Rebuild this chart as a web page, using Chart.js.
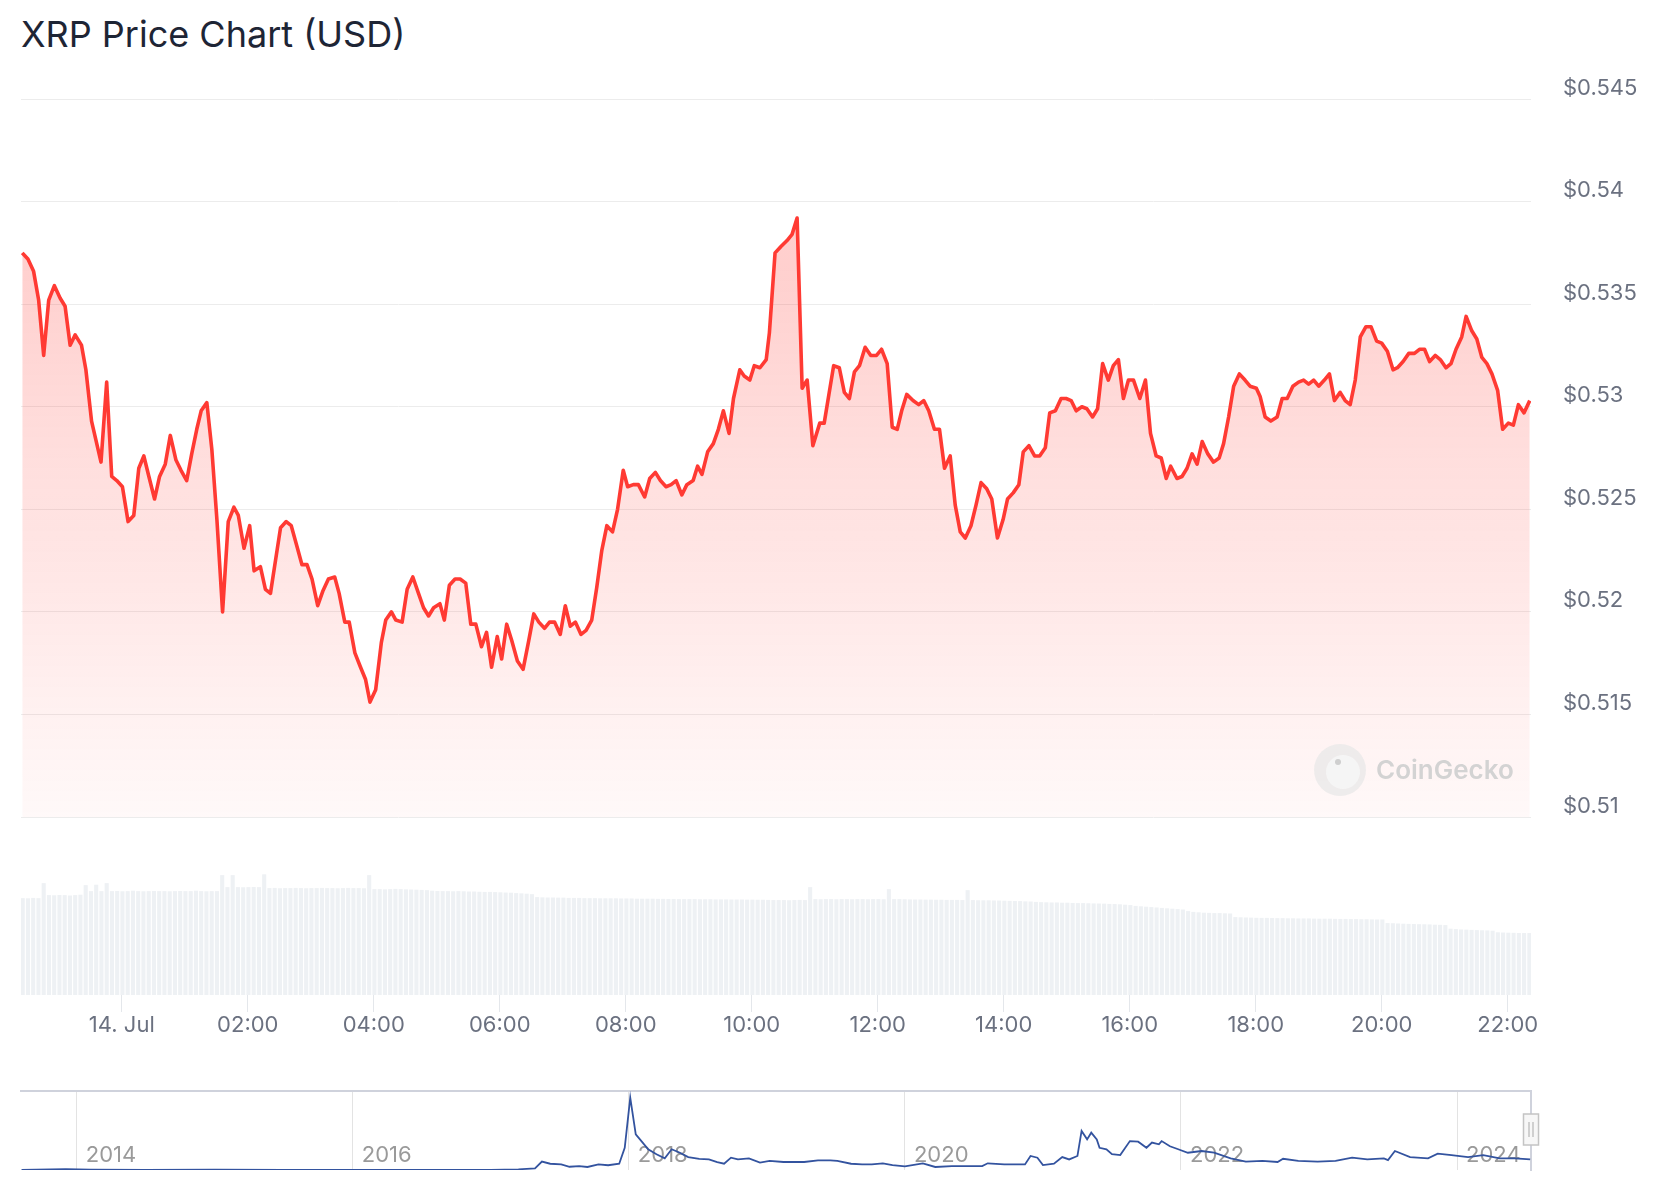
<!DOCTYPE html>
<html lang="en">
<head>
<meta charset="UTF-8">
<title>XRP Price Chart (USD)</title>
<style>
  body { margin: 0; background: #fff; }
  #wrap { position: relative; width: 1656px; height: 1200px; }
  h1 { position: absolute; left: 21px; top: 16px; margin: 0; font: 400 36px/36px Inter, sans-serif; color: #1e2535; }
  #main { position: absolute; left: 0; top: 0; }
  #nav { position: absolute; left: 0; top: 1075px; }
</style>
</head>
<body>
<div id="wrap">
  <h1>XRP Price Chart (USD)</h1>
  <canvas id="main" width="1656" height="1050"></canvas>
  <canvas id="nav" width="1656" height="115"></canvas>
</div>
<script src="https://cdn.jsdelivr.net/npm/chart.js"></script>
<script>
// hours since 14 Jul 00:00
const priceTimes = [
  -1.58, -1.49, -1.40, -1.32, -1.24, -1.16, -1.07, -0.98, -0.90, -0.82, -0.74, -0.64, -0.57, -0.48, -0.33, -0.24, -0.16, -0.08,
  0.01, 0.10, 0.19, 0.27, 0.35, 0.43, 0.52, 0.60, 0.69, 0.77, 0.86, 0.94, 1.03, 1.11, 1.19, 1.26, 1.35, 1.43, 1.51, 1.60, 1.69, 1.78, 1.85, 1.94,
  2.03, 2.10, 2.20, 2.28, 2.36, 2.44, 2.52, 2.61, 2.69, 2.78, 2.86, 2.94, 3.02, 3.11, 3.19, 3.28, 3.38, 3.45, 3.54, 3.61, 3.70, 3.79, 3.87, 3.94,
  4.03, 4.12, 4.19, 4.28, 4.35, 4.45, 4.53, 4.62, 4.71, 4.79, 4.87, 4.95, 5.05, 5.12, 5.20, 5.29, 5.37, 5.46, 5.54, 5.62, 5.71, 5.79, 5.87, 5.96,
  6.03, 6.11, 6.19, 6.28, 6.37, 6.46, 6.54, 6.62, 6.71, 6.79, 6.87, 6.96, 7.04, 7.12, 7.20, 7.29, 7.37, 7.46, 7.54, 7.62, 7.70, 7.79, 7.87, 7.96,
  8.03, 8.12, 8.20, 8.30, 8.38, 8.47, 8.55, 8.64, 8.72, 8.80, 8.89, 8.97, 9.07, 9.14, 9.21, 9.30, 9.39, 9.47, 9.55, 9.64, 9.71, 9.81, 9.88, 9.97,
  10.04, 10.13, 10.23, 10.28, 10.37, 10.46, 10.56, 10.64, 10.72, 10.80, 10.88, 10.97, 11.08, 11.15, 11.30, 11.39, 11.47, 11.55, 11.63, 11.71, 11.80, 11.89, 11.98,
  12.06, 12.15, 12.23, 12.31, 12.38, 12.46, 12.56, 12.65, 12.73, 12.81, 12.90, 12.98, 13.06, 13.15, 13.23, 13.31, 13.39, 13.48, 13.56, 13.64, 13.73, 13.81, 13.90, 13.99,
  14.06, 14.15, 14.24, 14.31, 14.40, 14.49, 14.57, 14.66, 14.73, 14.82, 14.91, 14.99, 15.07, 15.15, 15.24, 15.32, 15.41, 15.49, 15.57, 15.66, 15.74, 15.82, 15.90, 15.98,
  16.06, 16.16, 16.25, 16.33, 16.42, 16.50, 16.58, 16.65, 16.75, 16.83, 16.91, 16.99, 17.07, 17.15, 17.24, 17.33, 17.42, 17.49, 17.57, 17.65, 17.74, 17.83, 17.91,
  18.01, 18.07, 18.15, 18.24, 18.34, 18.42, 18.50, 18.59, 18.68, 18.76, 18.84, 18.92, 19.00, 19.09, 19.17, 19.25, 19.34, 19.42, 19.50, 19.58, 19.66, 19.75, 19.83, 19.92,
  20.00, 20.09, 20.18, 20.25, 20.34, 20.43, 20.52, 20.60, 20.68, 20.76, 20.85, 20.93, 21.02, 21.10, 21.18, 21.27, 21.34, 21.43, 21.51, 21.59, 21.67, 21.75, 21.84, 21.92,
  22.01, 22.09, 22.17, 22.26, 22.35
];
const prices = [
  0.5375, 0.5372, 0.5366, 0.5352, 0.5325, 0.5352, 0.5359, 0.5353, 0.5349, 0.5330, 0.5335, 0.5330, 0.5318, 0.5293, 0.5273, 0.5312, 0.5266, 0.5264,
  0.5261, 0.5244, 0.5247, 0.5270, 0.5276, 0.5266, 0.5255, 0.5266, 0.5272, 0.5286, 0.5274, 0.5269, 0.5264, 0.5277, 0.5289, 0.5298, 0.5302, 0.5279, 0.5245, 0.5200, 0.5244, 0.5251, 0.5247, 0.5231,
  0.5242, 0.5220, 0.5222, 0.5211, 0.5209, 0.5225, 0.5241, 0.5244, 0.5242, 0.5232, 0.5223, 0.5223, 0.5216, 0.5203, 0.5210, 0.5216, 0.5217, 0.5209, 0.5195, 0.5195, 0.5180, 0.5173, 0.5167, 0.5156,
  0.5162, 0.5185, 0.5196, 0.5200, 0.5196, 0.5195, 0.5211, 0.5217, 0.5209, 0.5202, 0.5198, 0.5202, 0.5204, 0.5196, 0.5213, 0.5216, 0.5216, 0.5214, 0.5194, 0.5194, 0.5183, 0.5190, 0.5173, 0.5188,
  0.5177, 0.5194, 0.5186, 0.5176, 0.5172, 0.5186, 0.5199, 0.5195, 0.5192, 0.5195, 0.5195, 0.5189, 0.5203, 0.5193, 0.5195, 0.5189, 0.5191, 0.5196, 0.5212, 0.5230, 0.5242, 0.5239, 0.5250, 0.5269,
  0.5261, 0.5262, 0.5262, 0.5256, 0.5265, 0.5268, 0.5264, 0.5261, 0.5262, 0.5264, 0.5257, 0.5262, 0.5264, 0.5271, 0.5267, 0.5278, 0.5282, 0.5289, 0.5298, 0.5287, 0.5304, 0.5318, 0.5315, 0.5313,
  0.5320, 0.5319, 0.5323, 0.5336, 0.5375, 0.5378, 0.5381, 0.5384, 0.5392, 0.5309, 0.5313, 0.5281, 0.5292, 0.5292, 0.5320, 0.5319, 0.5307, 0.5304, 0.5317, 0.5320, 0.5329, 0.5325, 0.5325,
  0.5328, 0.5321, 0.5290, 0.5289, 0.5298, 0.5306, 0.5303, 0.5301, 0.5303, 0.5298, 0.5289, 0.5289, 0.5270, 0.5276, 0.5252, 0.5239, 0.5236, 0.5242, 0.5252, 0.5263, 0.5260, 0.5255, 0.5236, 0.5245,
  0.5255, 0.5258, 0.5262, 0.5278, 0.5281, 0.5276, 0.5276, 0.5280, 0.5297, 0.5298, 0.5304, 0.5304, 0.5303, 0.5298, 0.5300, 0.5299, 0.5295, 0.5299, 0.5321, 0.5313, 0.5320, 0.5323, 0.5304, 0.5313,
  0.5313, 0.5304, 0.5313, 0.5287, 0.5276, 0.5275, 0.5265, 0.5271, 0.5265, 0.5266, 0.5270, 0.5277, 0.5272, 0.5283, 0.5277, 0.5273, 0.5275, 0.5282, 0.5295, 0.5310, 0.5316, 0.5313, 0.5310,
  0.5309, 0.5305, 0.5295, 0.5293, 0.5295, 0.5304, 0.5304, 0.5310, 0.5312, 0.5313, 0.5311, 0.5313, 0.5310, 0.5313, 0.5316, 0.5303, 0.5307, 0.5303, 0.5301, 0.5313, 0.5334, 0.5339, 0.5339, 0.5332,
  0.5331, 0.5327, 0.5318, 0.5319, 0.5322, 0.5326, 0.5326, 0.5328, 0.5328, 0.5322, 0.5325, 0.5323, 0.5319, 0.5321, 0.5328, 0.5334, 0.5344, 0.5337, 0.5333, 0.5324, 0.5321, 0.5316, 0.5308, 0.5289,
  0.5292, 0.5291, 0.5301, 0.5297, 0.5303
];

// 24h volume, million USD, one bar per 5 minutes
const volumes = [
  1212, 1210, 1215, 1212, 1400, 1250, 1248, 1252, 1250, 1245, 1250, 1255, 1375, 1300, 1380, 1300, 1400,
  1300, 1302, 1298, 1300, 1305, 1300, 1298, 1300, 1302, 1300, 1300, 1298, 1300, 1302, 1300, 1300, 1305, 1300, 1298, 1300, 1300,
  1500, 1350, 1500, 1350, 1348, 1350, 1352, 1350, 1510,
  1338, 1340, 1336, 1338, 1338, 1340, 1338, 1336, 1338, 1338, 1340, 1338, 1338, 1336, 1338, 1340, 1338, 1338, 1336, 1500,
  1325, 1325, 1322, 1325, 1328, 1325, 1322, 1320, 1318, 1315, 1312,
  1305, 1302, 1300, 1300, 1298, 1300, 1298, 1295, 1295, 1292, 1290, 1290, 1288, 1285, 1282, 1280, 1275, 1272, 1268, 1262,
  1225, 1222, 1220, 1220, 1218, 1218, 1215, 1215, 1215, 1212, 1212, 1212, 1210, 1210, 1210, 1210, 1208, 1208, 1208, 1205,
  1205, 1205, 1205, 1203, 1203, 1202, 1202, 1200, 1200, 1200, 1200, 1198, 1198, 1198, 1196, 1196, 1196, 1195, 1195, 1195,
  1193, 1193, 1192, 1192, 1190, 1188, 1188, 1188, 1186, 1188, 1190, 1188, 1350,
  1200, 1198, 1200, 1200, 1198, 1200, 1200, 1198, 1200, 1200, 1198, 1200, 1200, 1198, 1325,
  1200, 1200, 1198, 1196, 1195, 1195, 1193, 1193, 1192, 1192, 1190, 1190, 1190, 1188, 1312,
  1188, 1186, 1185, 1185, 1183, 1182, 1180, 1178, 1176, 1175, 1172, 1170,
  1165, 1162, 1160, 1158, 1158, 1155, 1155, 1152, 1150, 1150, 1148, 1146, 1145, 1143, 1140, 1138, 1135, 1130, 1125,
  1115, 1110, 1105, 1100, 1095, 1090, 1085, 1080, 1075, 1070, 1050, 1040, 1035, 1030, 1028, 1025, 1025, 1022, 1020,
  975, 972, 970, 968, 966, 965, 965, 963, 962, 962, 960, 960, 958, 958, 958, 956, 955, 955, 955, 953, 952, 952, 950, 950, 948, 948, 946, 945, 945,
  900, 898, 895, 892, 890, 888, 886, 885, 883, 880, 878, 875, 830, 825, 820, 818, 815, 812, 810, 808, 805,
  785, 782, 780, 778, 776, 775, 775
];
const volStart = -1.573;   // first bar, hours
const volStep = 5 / 60;

const hourTicks = [0, 2, 4, 6, 8, 10, 12, 14, 16, 18, 20, 22];
const priceTicks = [0.51, 0.515, 0.52, 0.525, 0.53, 0.535, 0.54, 0.545];

// all-time navigator
const navYears = [
  2013.60, 2013.92, 2014.10, 2014.50, 2015.00, 2015.50, 2016.00, 2016.50, 2017.00, 2017.20, 2017.32, 2017.37, 2017.43, 2017.51,
  2017.57, 2017.64, 2017.70, 2017.78, 2017.85, 2017.93, 2017.97, 2018.01, 2018.05, 2018.10, 2018.14, 2018.20, 2018.26, 2018.31,
  2018.37, 2018.43, 2018.51, 2018.58, 2018.64, 2018.69, 2018.74, 2018.79, 2018.87, 2018.95, 2019.02, 2019.12, 2019.27, 2019.37,
  2019.46, 2019.51, 2019.61, 2019.69, 2019.76, 2019.84, 2019.91, 2020.00, 2020.13, 2020.22, 2020.34, 2020.45, 2020.56, 2020.60,
  2020.72, 2020.87, 2020.91, 2020.96, 2021.00, 2021.08, 2021.14, 2021.19, 2021.25, 2021.28, 2021.32, 2021.35, 2021.39, 2021.41,
  2021.46, 2021.50, 2021.56, 2021.63, 2021.69, 2021.75, 2021.79, 2021.84, 2021.86, 2021.92, 2021.98, 2022.05, 2022.15, 2022.24,
  2022.36, 2022.47, 2022.59, 2022.70, 2022.74, 2022.85, 2022.99, 2023.12, 2023.24, 2023.35, 2023.47, 2023.50, 2023.55, 2023.66,
  2023.79, 2023.86, 2023.96, 2024.08, 2024.19, 2024.31, 2024.42, 2024.53
];
const navPrices = [
  0.005, 0.04, 0.02, 0.006, 0.02, 0.008, 0.006, 0.007, 0.006, 0.03, 0.08, 0.39, 0.29, 0.26,
  0.15, 0.18, 0.14, 0.26, 0.22, 0.29, 1.03, 3.35, 1.65, 1.27, 0.96, 0.73, 0.54, 0.96,
  0.80, 0.60, 0.52, 0.49, 0.37, 0.29, 0.57, 0.49, 0.54, 0.34, 0.42, 0.37, 0.37, 0.45,
  0.45, 0.42, 0.29, 0.26, 0.26, 0.31, 0.23, 0.17, 0.31, 0.14, 0.18, 0.18, 0.18, 0.31,
  0.26, 0.26, 0.65, 0.57, 0.23, 0.29, 0.60, 0.49, 0.65, 1.81, 1.42, 1.73, 1.42, 1.03,
  0.96, 0.73, 0.69, 1.34, 1.31, 1.03, 1.27, 1.19, 1.34, 1.10, 0.96, 0.80, 0.88, 0.80,
  0.54, 0.39, 0.42, 0.37, 0.52, 0.42, 0.39, 0.42, 0.57, 0.49, 0.54, 0.46, 0.88, 0.60,
  0.54, 0.76, 0.69, 0.60, 0.69, 0.54, 0.54, 0.49
];
const yearTicks = [2014, 2016, 2018, 2020, 2022, 2024];

Chart.defaults.font.family = 'Inter';

const red = 'rgb(255,58,51)';
const labelColor = '#6b7180';

// price panel ends at 0.51; the volume bars live below it in the same area
const areaTop = 99, priceBottom = 817, areaBottom = 995;
const yMin = 0.51 - (areaBottom - priceBottom) / (priceBottom - areaTop) * (0.545 - 0.51);

const watermark = {
  id: 'watermark',
  afterDatasetsDraw(chart) {
    const { ctx, chartArea: a } = chart;
    const cx = a.right - 191, cy = a.top + 671;
    ctx.save();
    ctx.fillStyle = 'rgba(232,232,232,0.75)';
    ctx.beginPath(); ctx.arc(cx, cy, 26, 0, Math.PI * 2); ctx.fill();
    ctx.fillStyle = 'rgba(246,246,246,0.9)';
    ctx.beginPath(); ctx.arc(cx + 3, cy + 2, 17, 0, Math.PI * 2); ctx.fill();
    ctx.fillStyle = '#cfcfcf';
    ctx.beginPath(); ctx.arc(cx - 2, cy - 8, 3, 0, Math.PI * 2); ctx.fill();
    ctx.fillStyle = '#d3d3d3';
    ctx.font = '600 26px Inter';
    ctx.textBaseline = 'middle';
    ctx.fillText('CoinGecko', cx + 36, cy + 1);
    ctx.restore();
  }
};

new Chart(document.getElementById('main'), {
  type: 'line',
  data: {
    datasets: [
      {
        type: 'line',
        data: priceTimes.map((t, i) => ({ x: t, y: prices[i] })),
        yAxisID: 'y',
        borderColor: red,
        borderWidth: 3.6,
        borderJoinStyle: 'round',
        pointRadius: 0,
        tension: 0,
        fill: { value: 0.51 },
        backgroundColor: (c) => {
          const ch = c.chart;
          if (!ch.chartArea) return 'rgba(255,58,51,0.12)';
          const y = ch.scales.y;
          const g = ch.ctx.createLinearGradient(0, y.getPixelForValue(0.545), 0, y.getPixelForValue(0.51));
          g.addColorStop(0, 'rgba(255,58,51,0.30)');
          g.addColorStop(1, 'rgba(255,58,51,0.03)');
          return g;
        },
        order: 0
      },
      {
        type: 'bar',
        data: volumes.map((v, i) => ({ x: volStart + i * volStep, y: v })),
        yAxisID: 'v',
        backgroundColor: '#eef1f4',
        barPercentage: 0.78,
        categoryPercentage: 1,
        order: 1
      }
    ]
  },
  options: {
    responsive: false,
    animation: false,
    layout: { padding: { top: areaTop, left: 21, right: 0, bottom: 0 } },
    plugins: { legend: { display: false }, tooltip: { enabled: false } },
    scales: {
      x: {
        type: 'linear',
        min: -1.6,
        max: 22.37,
        offset: false,
        afterBuildTicks: (s) => { s.ticks = hourTicks.map(v => ({ value: v })); },
        afterFit: (s) => { s.height = 1050 - areaBottom; },
        grid: { drawOnChartArea: false, offset: false, tickLength: 17, tickColor: '#e4e7eb' },
        border: { display: false },
        ticks: {
          autoSkip: false, maxRotation: 0, padding: 0,
          font: { size: 22 }, color: labelColor,
          callback: (v) => v === 0 ? '14. Jul' : String(v).padStart(2, '0') + ':00'
        }
      },
      y: {
        position: 'right',
        min: yMin,
        max: 0.545,
        afterBuildTicks: (s) => { s.ticks = priceTicks.map(v => ({ value: v })); },
        afterFit: (s) => { s.width = 125; },
        grid: { color: '#ececec', drawTicks: false },
        border: { display: false },
        ticks: { padding: 32, labelOffset: -11, font: { size: 22 }, color: labelColor, callback: (v) => '$' + v }
      },
      v: { display: false, min: 0, max: 11212 }
    }
  },
  plugins: [watermark]
});

// year labels sit inside the navigator, just right of each grid line
const yearLabels = {
  id: 'yearLabels',
  beforeDatasetsDraw(chart) {
    const { ctx, chartArea: a, scales } = chart;
    ctx.save();
    ctx.fillStyle = '#9a9a9a';
    ctx.font = '22px Inter';
    ctx.textBaseline = 'middle';
    yearTicks.forEach(y => ctx.fillText(String(y), scales.x.getPixelForValue(y) + 9, a.bottom - 15));
    ctx.restore();
  }
};

const handle = {
  id: 'handle',
  afterDraw(chart) {
    const { ctx, chartArea: a } = chart;
    const x = a.right, y = a.top + 23;
    ctx.save();
    ctx.fillStyle = '#f7f7f7';
    ctx.strokeStyle = '#c4c4c4';
    ctx.lineWidth = 1.5;
    ctx.fillRect(x - 7.5, y, 15, 31);
    ctx.strokeRect(x - 7.5, y, 15, 31);
    ctx.beginPath();
    ctx.moveTo(x - 2, y + 8); ctx.lineTo(x - 2, y + 23);
    ctx.moveTo(x + 2, y + 8); ctx.lineTo(x + 2, y + 23);
    ctx.stroke();
    ctx.restore();
  }
};

new Chart(document.getElementById('nav'), {
  type: 'line',
  data: {
    datasets: [{
      data: navYears.map((x, i) => ({ x: x, y: navPrices[i] })),
      borderColor: '#33539f',
      borderWidth: 1.8,
      pointRadius: 0,
      tension: 0,
      fill: false
    }]
  },
  options: {
    responsive: false,
    animation: false,
    layout: { padding: { top: 16, left: 21, right: 125, bottom: 20 } },
    plugins: { legend: { display: false }, tooltip: { enabled: false } },
    scales: {
      x: {
        type: 'linear',
        min: 2013.596,
        max: 2024.536,
        afterBuildTicks: (s) => { s.ticks = yearTicks.map(v => ({ value: v })); },
        afterFit: (s) => { s.height = 0; },
        grid: { color: '#e3e3e3', drawTicks: false },
        border: { display: false },
        ticks: { display: false }
      },
      x2: {
        type: 'linear',
        position: 'top',
        min: 2013.596,
        max: 2024.536,
        afterFit: (s) => { s.height = 0; },
        grid: { display: false, drawTicks: false },
        ticks: { display: false },
        border: { color: '#cfd2dc', width: 2 }
      },
      y: {
        position: 'right',
        min: 0,
        max: 3.66,
        afterFit: (s) => { s.width = 0; },
        grid: { display: false, drawTicks: false },
        ticks: { display: false },
        border: { color: '#cfd2dc', width: 2 }
      }
    }
  },
  plugins: [yearLabels, handle]
});
</script>
</body>
</html>
